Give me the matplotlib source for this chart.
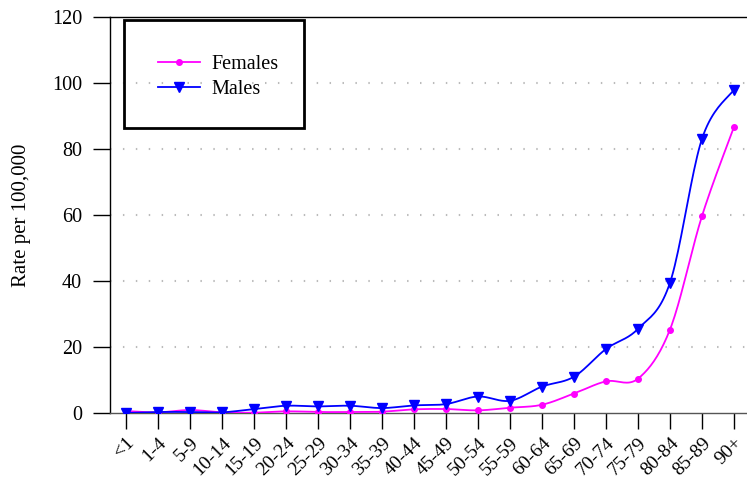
import numpy as np
from matplotlib import pyplot as plt
from matplotlib.patches import Rectangle

ageGroups = ['<1', '1-4', '5-9', '10-14', '15-19', '20-24', '25-29', '30-34', '35-39', '40-44',
             '45-49', '50-54', '55-59', '60-64', '65-69', '70-74', '75-79', '80-84', '85-89', '90+']
females = [0.6, 0.2, 0.9, 0.2, 0.1, 0.5, 0.3, 0.3, 0.4, 1.1,
           1.2, 0.8, 1.6, 2.5, 5.9, 9.6, 10.4, 25.3, 59.7, 86.7]
males = [0.0, 0.3, 0.3, 0.2, 1.2, 2.2, 2.0, 2.2, 1.5, 2.3,
         2.7, 5.0, 3.7, 8.0, 11.0, 19.4, 25.5, 39.5, 83.1, 98.0]


def smoothLine(xs, ys, steps=20):
    # catmull-rom style curve through the points, like the excel smoothed line
    xs = np.asarray(xs, dtype=float)
    ys = np.asarray(ys, dtype=float)
    px = np.concatenate([[xs[0]], xs, [xs[-1]]])
    py = np.concatenate([[ys[0]], ys, [ys[-1]]])
    outX = []
    outY = []
    for i in range(1, len(px) - 2):
        t = np.linspace(0, 1, steps, endpoint=False)
        for p, out in ((px, outX), (py, outY)):
            p0, p1, p2, p3 = p[i - 1], p[i], p[i + 1], p[i + 2]
            m1 = (p2 - p0) / 2.0
            m2 = (p3 - p1) / 2.0
            h00 = 2 * t**3 - 3 * t**2 + 1
            h10 = t**3 - 2 * t**2 + t
            h01 = -2 * t**3 + 3 * t**2
            h11 = t**3 - t**2
            out.extend(h00 * p1 + h10 * m1 + h01 * p2 + h11 * m2)
    outX.append(xs[-1])
    outY.append(ys[-1])
    return np.array(outX), np.array(outY)


def main():
    plt.rcParams['font.family'] = ['Liberation Serif', 'DejaVu Serif']

    fig = plt.figure(figsize=(7.47, 4.83), dpi=100)
    ax = fig.add_axes([110 / 747, 70 / 483, 637 / 747, 396 / 483])

    xPos = np.arange(len(ageGroups))

    fx, fy = smoothLine(xPos, females)
    mx, my = smoothLine(xPos, males)
    ax.plot(fx, fy, color='#ff00ff', linewidth=1.3, zorder=3)
    ax.plot(mx, my, color='#0000ff', linewidth=1.3, zorder=4)
    ax.plot(xPos, females, linestyle='none', marker='o', markersize=4,
            color='#ff00ff', zorder=3)
    ax.plot(xPos, males, linestyle='none', marker='v', markersize=7.5,
            color='#0000ff', zorder=4)

    # legend entries (line + marker)
    ax.plot([], [], color='#ff00ff', linewidth=1.3, marker='o', markersize=4, label='Females')
    ax.plot([], [], color='#0000ff', linewidth=1.3, marker='v', markersize=7.5, label='Males')
    handles, labels = ax.get_legend_handles_labels()
    ax.legend(handles, labels, loc='upper left', bbox_to_anchor=(48 / 637, 358 / 396),
              frameon=False, fontsize=14.5, handlelength=2.1, labelspacing=0.3,
              handletextpad=0.55, borderpad=0, borderaxespad=0)
    ax.add_patch(Rectangle((14 / 637, 285 / 396), 180 / 637, 108 / 396,
                           transform=ax.transAxes, fill=False, edgecolor='black',
                           linewidth=2, zorder=5, clip_on=False))

    ax.set_xlim(-0.5, -0.5 + 637 / 32.0)
    ax.set_ylim(0, 120)
    ax.set_yticks(range(0, 121, 20))
    ax.set_xticks(xPos)
    ax.set_xticklabels(ageGroups, rotation=45, ha='right', rotation_mode='anchor')

    for yv in range(20, 101, 20):
        ax.axhline(yv, color='#bbbbbb', linewidth=1.5, linestyle=(0, (0.7, 5.5)), zorder=1)

    ax.spines['right'].set_visible(False)
    for s in ['left', 'bottom', 'top']:
        ax.spines[s].set_linewidth(1.0)
        ax.spines[s].set_color('black')
    ax.spines['bottom'].set_color('#555555')

    ax.tick_params(axis='y', direction='out', length=12, width=1, labelsize=14.5, pad=8)
    ax.tick_params(axis='x', direction='out', length=11.5, width=1, labelsize=14, pad=4)

    ax.set_ylabel('Rate per 100,000', fontsize=15)
    ax.yaxis.set_label_coords(-79 / 637, 0.5)

    fig.savefig('out.png', dpi=100)
    return


if __name__ == '__main__':
    main()
